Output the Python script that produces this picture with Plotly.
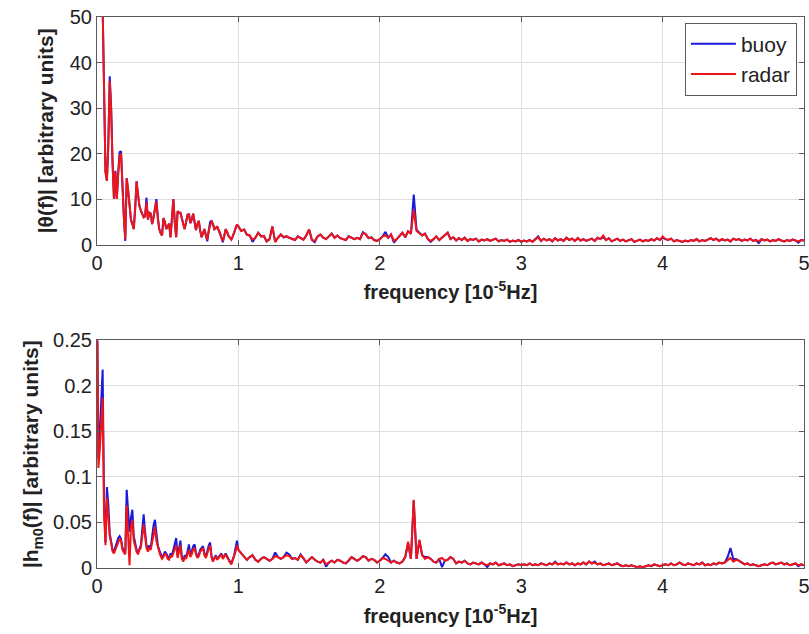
import numpy as np
import plotly.graph_objects as go
from plotly.subplots import make_subplots

# frequency grid [10^-5 Hz]: fine below 1, coarser above
freq_lo = np.round(np.arange(0.0, 1.0, 0.01), 2)
freq_hi = np.round(np.arange(1.0, 5.0001, 0.02), 2)
freq = np.concatenate([freq_lo, freq_hi])

# ---------------- top panel |theta(f)| ----------------
theta_radar_lo = [
    300, 250, 180, 110, 52, 30, 16, 14, 22, 36,
    30, 18, 10, 16, 10, 15.5, 19.5, 20, 11, 6,
    1.1, 14.5, 12, 8, 5.5, 4.5, 3.4, 8, 13.9, 11,
    8.5, 7.5, 6.5, 6, 6.2, 9.3, 5.5, 7, 6.8, 4.5,
    6, 8, 9.5, 6, 3.4, 2.5, 2, 5.8, 5, 3.4,
    4, 4.6, 1.6, 5, 10, 5, 1.6, 7.3, 7, 7,
    6, 4.5, 3.4, 5, 6.5, 6.8, 4.7, 5.5, 6.8, 5,
    3.2, 4.5, 5.2, 3, 1.6, 2.5, 3.4, 2, 1.1, 3,
    4.1, 5.2, 4.5, 3.4, 3.6, 4, 3.2, 2.6, 1.5, 0.8,
    1.8, 3.4, 2.8, 1.9, 1.5, 1.1, 1.8, 2.6, 3.5, 4.4,
]
theta_buoy_lo = [
    300, 250, 180, 110, 52, 30, 16, 14, 22, 37,
    30, 18, 10, 16.2, 10, 15.8, 20.3, 20.5, 11, 6,
    0.8, 14.6, 12, 8, 5.5, 4.5, 3.4, 8, 13.9, 11,
    8.5, 7.5, 6.5, 6, 6.2, 10.3, 5.5, 7, 6.8, 4.5,
    6, 8, 10, 6, 3.4, 2.5, 2, 5.8, 5, 3.4,
    4, 4.6, 1.6, 5, 10, 5, 1.6, 7.3, 7, 7,
    6, 4.5, 3.4, 5, 6.5, 6.8, 4.7, 5.5, 6.8, 5,
    3.2, 4.5, 5.2, 3, 1.6, 2.5, 3.4, 2, 0.7, 3,
    5.0, 5.2, 4.5, 3.4, 3.6, 4, 3.2, 2.6, 1.5, 0.5,
    1.8, 3.4, 2.8, 1.9, 1.5, 1.1, 1.8, 2.6, 3.5, 4.4,
]
theta_radar_hi = [
    4.0, 3.0, 3.3, 2.2, 2.0, 1.1, 1.5, 2.6, 1.8, 1.9,
    0.7, 1.2, 4.0, 0.6, 1.5, 2.2, 1.6, 1.8, 1.5, 1.3,
    1.0, 1.8, 1.5, 1.1, 2.0, 3.3, 1.0, 0.8, 1.8, 2.2,
    1.5, 1.2, 1.8, 2.4, 1.5, 2.0, 1.4, 1.2, 1.0, 1.8,
    1.5, 1.2, 1.5, 1.2, 2.5, 2.3, 1.4, 1.6, 1.0, 0.8,
    1.2, 1.8, 2.0, 1.5, 2.2, 0.8, 1.2, 2.0, 2.6, 1.6,
    2.9, 2.4, 7.7, 3.0, 2.5, 2.0, 2.4, 1.2, 0.8, 1.2,
    1.8, 1.0, 1.5, 2.0, 2.6, 1.2, 1.6, 0.9, 1.4, 1.0,
    1.5, 0.8, 1.2, 1.0, 1.3, 0.7, 1.1, 0.9, 1.2, 0.8,
    1.0, 1.3, 0.7, 1.0, 0.8, 1.1, 0.6, 0.9, 0.7, 1.0,
    0.6, 0.9, 0.7, 1.0, 0.6, 1.2, 1.6, 0.8, 1.3, 0.9,
    1.2, 0.7, 1.4, 0.9, 1.2, 0.8, 1.5, 1.0, 1.3, 0.8,
    1.4, 0.9, 1.2, 0.8, 1.0, 1.3, 0.8, 1.5, 1.2, 2.0,
    1.0, 1.4, 0.7, 1.0, 1.3, 0.8, 1.1, 0.7, 1.0, 1.2,
    0.6, 0.9, 1.1, 0.7, 1.0, 0.8, 1.2, 0.9, 1.4, 1.0,
    1.8, 1.2, 1.0, 1.3, 0.7, 1.0, 0.8, 0.6, 0.9, 0.7,
    1.0, 0.8, 1.2, 0.7, 1.0, 0.8, 1.1, 1.4, 1.0, 1.3,
    0.8, 1.2, 0.9, 1.1, 0.7, 1.3, 1.0, 1.2, 0.8, 1.1,
    0.9, 1.3, 0.8, 1.0, 0.7, 1.2, 0.9, 1.1, 0.7, 1.0,
    0.8, 1.2, 0.9, 0.7, 1.0, 0.8, 1.1, 0.9, 0.7, 1.0,
    0.9,
]
theta_buoy_hi = [
    4.0, 3.0, 3.3, 2.2, 2.0, 0.6, 1.5, 2.6, 1.8, 1.9,
    0.7, 1.2, 4.0, 0.6, 1.5, 2.2, 1.6, 1.8, 1.5, 1.3,
    1.0, 1.8, 1.5, 1.1, 2.0, 3.3, 1.0, 0.5, 1.8, 2.2,
    1.5, 1.2, 1.8, 2.4, 1.5, 2.0, 1.4, 1.2, 1.0, 1.8,
    1.5, 1.2, 1.5, 1.2, 2.7, 2.3, 1.4, 1.6, 1.0, 0.8,
    1.2, 1.8, 2.8, 1.5, 2.2, 0.4, 1.2, 2.0, 2.6, 1.6,
    2.9, 2.4, 11.0, 3.2, 2.5, 2.0, 2.4, 1.2, 0.6, 1.2,
    1.8, 1.0, 1.5, 2.0, 2.6, 1.2, 1.6, 0.9, 1.4, 1.0,
    1.5, 0.8, 1.2, 1.0, 1.3, 0.7, 1.1, 0.9, 1.2, 0.8,
    1.0, 1.3, 0.7, 1.0, 0.8, 1.1, 0.6, 0.9, 0.7, 1.0,
    0.6, 0.9, 0.7, 1.0, 0.6, 1.2, 1.8, 0.8, 1.3, 0.9,
    1.2, 0.7, 1.4, 0.9, 1.2, 0.8, 1.5, 1.0, 1.3, 0.8,
    1.4, 0.9, 1.2, 0.8, 1.0, 1.3, 0.8, 1.5, 1.2, 1.6,
    1.0, 1.4, 0.7, 1.0, 1.3, 0.8, 1.1, 0.7, 1.0, 1.2,
    0.6, 0.9, 1.1, 0.7, 1.0, 0.8, 1.2, 0.9, 1.4, 1.0,
    1.5, 1.2, 1.0, 1.3, 0.7, 1.0, 0.8, 0.6, 0.9, 0.7,
    1.0, 0.8, 1.2, 0.7, 1.0, 0.8, 1.1, 1.4, 1.0, 1.3,
    0.8, 1.2, 0.9, 1.1, 0.7, 1.3, 1.0, 1.2, 0.8, 1.1,
    0.9, 1.3, 0.8, 1.0, 0.3, 1.2, 0.9, 1.1, 0.7, 1.0,
    0.8, 1.2, 0.9, 0.7, 1.0, 0.8, 1.1, 0.9, 0.4, 1.0,
    0.9,
]

# ---------------- bottom panel |h_m0(f)| ----------------
hm0_radar_lo = [
    0.30, 0.11, 0.13, 0.16, 0.187, 0.06, 0.025, 0.077, 0.06, 0.035,
    0.028, 0.018, 0.016, 0.02, 0.026, 0.03, 0.032, 0.03, 0.02, 0.017,
    0.015, 0.069, 0.04, 0.003, 0.045, 0.053, 0.03, 0.022, 0.018, 0.015,
    0.02, 0.022, 0.035, 0.048, 0.035, 0.022, 0.018, 0.022, 0.02, 0.03,
    0.04, 0.045, 0.03, 0.022, 0.018, 0.013, 0.01, 0.012, 0.016, 0.014,
    0.01, 0.009, 0.014, 0.012, 0.016, 0.022, 0.025, 0.011, 0.02, 0.025,
    0.01, 0.007, 0.012, 0.01, 0.015, 0.02, 0.012, 0.015, 0.02, 0.022,
    0.015, 0.011, 0.013, 0.018, 0.02, 0.022, 0.014, 0.011, 0.016, 0.022,
    0.025, 0.012, 0.007, 0.01, 0.013, 0.009, 0.011, 0.014, 0.015, 0.01,
    0.012, 0.015, 0.012, 0.008, 0.006, 0.004, 0.008, 0.012, 0.018, 0.025,
]
hm0_buoy_lo = [
    0.30, 0.12, 0.15, 0.19, 0.218, 0.07, 0.028, 0.089, 0.07, 0.038,
    0.03, 0.02, 0.018, 0.022, 0.028, 0.033, 0.035, 0.032, 0.022, 0.019,
    0.017, 0.086, 0.06, 0.04, 0.055, 0.064, 0.035, 0.025, 0.02, 0.017,
    0.022, 0.025, 0.042, 0.059, 0.04, 0.025, 0.02, 0.025, 0.022, 0.035,
    0.047, 0.053, 0.035, 0.025, 0.02, 0.015, 0.012, 0.014, 0.018, 0.016,
    0.012, 0.01, 0.016, 0.014, 0.02, 0.028, 0.033, 0.013, 0.024, 0.03,
    0.012, 0.008, 0.014, 0.012, 0.018, 0.026, 0.015, 0.018, 0.024, 0.026,
    0.017, 0.012, 0.015, 0.02, 0.022, 0.024, 0.016, 0.012, 0.018, 0.025,
    0.028, 0.013, 0.008, 0.011, 0.014, 0.01, 0.012, 0.015, 0.016, 0.011,
    0.013, 0.016, 0.013, 0.009, 0.007, 0.005, 0.009, 0.014, 0.022, 0.03,
]
hm0_radar_hi = [
    0.02, 0.016, 0.012, 0.009, 0.012, 0.014, 0.009, 0.007, 0.01, 0.012,
    0.01, 0.008, 0.01, 0.013, 0.012, 0.01, 0.012, 0.014, 0.013, 0.01,
    0.011, 0.009, 0.014, 0.011, 0.006, 0.009, 0.012, 0.009, 0.007, 0.006,
    0.009, 0.004, 0.006, 0.008, 0.006, 0.009, 0.008, 0.006, 0.005, 0.008,
    0.012, 0.01, 0.008, 0.01, 0.013, 0.012, 0.008, 0.01, 0.009, 0.006,
    0.008, 0.011, 0.01, 0.008, 0.006, 0.008, 0.006, 0.005, 0.007, 0.012,
    0.029, 0.01, 0.075, 0.01, 0.031, 0.014, 0.01, 0.012, 0.01, 0.007,
    0.006, 0.01, 0.011, 0.008, 0.009, 0.012, 0.01, 0.005, 0.007, 0.006,
    0.008, 0.005, 0.004, 0.006, 0.005, 0.004, 0.006, 0.004, 0.003, 0.005,
    0.004, 0.006, 0.003, 0.004, 0.005, 0.003, 0.004, 0.002, 0.003, 0.004,
    0.003, 0.004, 0.003, 0.005, 0.003, 0.004, 0.003, 0.005, 0.004, 0.003,
    0.005, 0.004, 0.006, 0.004, 0.005, 0.004, 0.006, 0.004, 0.005, 0.003,
    0.005, 0.004, 0.006, 0.004, 0.007, 0.005, 0.006, 0.004, 0.005, 0.003,
    0.004, 0.005, 0.003, 0.004, 0.005, 0.003, 0.002, 0.003, 0.002, 0.003,
    0.002, 0.001, 0.002, 0.001, 0.002, 0.003, 0.002, 0.004, 0.003, 0.002,
    0.003, 0.004, 0.003, 0.005, 0.003, 0.004, 0.006, 0.004, 0.003, 0.005,
    0.004, 0.003, 0.005, 0.004, 0.006, 0.003, 0.004, 0.003, 0.005, 0.004,
    0.006, 0.005, 0.006, 0.009, 0.011, 0.007, 0.009, 0.008, 0.006, 0.004,
    0.005, 0.003, 0.004, 0.003, 0.002, 0.003, 0.004, 0.003, 0.005, 0.006,
    0.004, 0.005, 0.006, 0.004, 0.005, 0.003, 0.004, 0.005, 0.003, 0.004,
    0.003,
]
hm0_buoy_hi = [
    0.02, 0.016, 0.012, 0.009, 0.012, 0.014, 0.009, 0.007, 0.01, 0.012,
    0.01, 0.008, 0.01, 0.017, 0.012, 0.01, 0.012, 0.017, 0.015, 0.01,
    0.011, 0.009, 0.015, 0.011, 0.006, 0.009, 0.012, 0.009, 0.007, 0.006,
    0.009, 0.0015, 0.006, 0.008, 0.006, 0.009, 0.008, 0.006, 0.005, 0.008,
    0.012, 0.01, 0.008, 0.01, 0.013, 0.012, 0.008, 0.01, 0.009, 0.006,
    0.008, 0.011, 0.015, 0.012, 0.006, 0.008, 0.006, 0.005, 0.007, 0.012,
    0.027, 0.01, 0.074, 0.01, 0.03, 0.014, 0.012, 0.012, 0.01, 0.007,
    0.006, 0.01, 0.001, 0.008, 0.009, 0.012, 0.01, 0.005, 0.007, 0.006,
    0.008, 0.005, 0.004, 0.006, 0.005, 0.004, 0.006, 0.004, 0.001, 0.005,
    0.004, 0.006, 0.003, 0.004, 0.005, 0.003, 0.004, 0.002, 0.003, 0.004,
    0.003, 0.004, 0.003, 0.005, 0.003, 0.004, 0.003, 0.005, 0.004, 0.003,
    0.005, 0.004, 0.007, 0.004, 0.005, 0.004, 0.006, 0.004, 0.005, 0.003,
    0.005, 0.004, 0.006, 0.004, 0.007, 0.005, 0.007, 0.004, 0.005, 0.003,
    0.004, 0.005, 0.003, 0.004, 0.005, 0.003, 0.002, 0.003, 0.002, 0.003,
    0.002, 0.001, 0.002, 0.001, 0.002, 0.003, 0.002, 0.004, 0.003, 0.002,
    0.003, 0.004, 0.003, 0.005, 0.003, 0.004, 0.006, 0.004, 0.003, 0.005,
    0.004, 0.003, 0.005, 0.004, 0.006, 0.003, 0.004, 0.003, 0.005, 0.004,
    0.006, 0.005, 0.006, 0.012, 0.022, 0.01, 0.01, 0.008, 0.006, 0.004,
    0.005, 0.003, 0.004, 0.003, 0.002, 0.003, 0.004, 0.003, 0.005, 0.006,
    0.004, 0.005, 0.006, 0.004, 0.005, 0.003, 0.004, 0.005, 0.002, 0.004,
    0.003,
]

series_names = ["buoy", "radar"]
colors = {"buoy": "#1a1adc", "radar": "#f01414"}

theta = {"buoy": theta_buoy_lo + theta_buoy_hi, "radar": theta_radar_lo + theta_radar_hi}
hm0 = {"buoy": hm0_buoy_lo + hm0_buoy_hi, "radar": hm0_radar_lo + hm0_radar_hi}

fig = make_subplots(rows=2, cols=1, vertical_spacing=0.174)

for name in series_names:
    fig.add_trace(go.Scatter(x=freq, y=theta[name], mode="lines", name=name,
                             line=dict(color=colors[name], width=2)), row=1, col=1)
for name in series_names:
    fig.add_trace(go.Scatter(x=freq, y=hm0[name], mode="lines", name=name, showlegend=False,
                             line=dict(color=colors[name], width=2)), row=2, col=1)

FONT = "Arial, Liberation Sans, sans-serif"
TXT = "#222"
axis_common = dict(showline=True, linecolor="#5a5a5a", linewidth=1, mirror="ticks",
                   ticks="inside", ticklen=5, tickcolor="#5a5a5a",
                   showgrid=True, gridcolor="#dedede", gridwidth=1, zeroline=False,
                   ticklabeloverflow="allow", automargin=False,
                   tickfont=dict(family=FONT, size=20, color=TXT))

xtitle = "<b>frequency [10<sup>-5</sup>Hz]</b>"
fig.update_xaxes(range=[0, 5], dtick=1, tick0=0, **axis_common)
fig.update_xaxes(title=dict(text=xtitle, font=dict(family=FONT, size=20, color=TXT), standoff=12), row=1, col=1)
fig.update_xaxes(title=dict(text=xtitle, font=dict(family=FONT, size=20, color=TXT), standoff=12), row=2, col=1)
fig.update_yaxes(**axis_common)
fig.update_yaxes(range=[0, 50], dtick=10, row=1, col=1,
                 title=dict(text="<b>|θ(f)| [arbitrary units]</b>", font=dict(family=FONT, size=21, color=TXT), standoff=10))
fig.update_yaxes(range=[0, 0.25], dtick=0.05, row=2, col=1,
                 title=dict(text="<b>|h<sub>m0</sub>(f)| [arbitrary units]</b>", font=dict(family=FONT, size=21, color=TXT), standoff=8))

fig.update_layout(
    width=809, height=634,
    margin=dict(l=97, r=5, t=17, b=66),
    plot_bgcolor="white", paper_bgcolor="white",
    font=dict(family=FONT, size=20, color=TXT),
    legend=dict(x=0.99, y=0.99, xanchor="right", yanchor="top",
                bgcolor="white", bordercolor="#5a5a5a", borderwidth=1,
                font=dict(family=FONT, size=21, color=TXT),
                itemwidth=45, tracegroupgap=0),
)

fig.write_html("out.html")
